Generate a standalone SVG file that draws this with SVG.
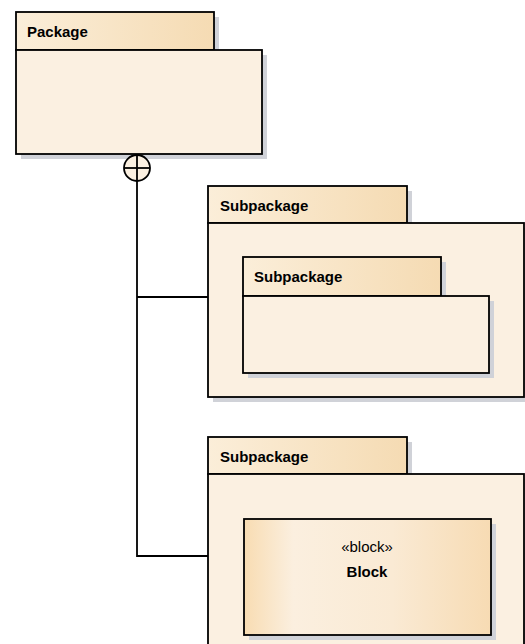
<svg xmlns="http://www.w3.org/2000/svg" width="525" height="644" viewBox="0 0 525 644">
<defs>
<linearGradient id="tabG" x1="0" y1="0" x2="1" y2="0">
<stop offset="0" stop-color="#fbeed9"/>
<stop offset="1" stop-color="#f5dbb3"/>
</linearGradient>
<linearGradient id="blockG" x1="0" y1="0" x2="1" y2="0">
<stop offset="0" stop-color="#f8dcb2"/>
<stop offset="0.2" stop-color="#fbefdf"/>
<stop offset="0.6" stop-color="#faead4"/>
<stop offset="1" stop-color="#f7dbb3"/>
</linearGradient>
<style>
.sh{fill:#d0d2d8;stroke:none}
.tab{fill:url(#tabG);stroke:#000;stroke-width:1.8}
.body{fill:#fbf0e1;stroke:#000;stroke-width:1.8}
.blk{fill:url(#blockG);stroke:#000;stroke-width:1.8}
.lbl{font-family:"Liberation Sans",Arial,sans-serif;font-size:15px;font-weight:bold;fill:#000}
.st{font-family:"Liberation Sans",Arial,sans-serif;font-size:15px;fill:#000}
.con{fill:none;stroke:#000;stroke-width:1.8}
</style>
</defs>
<g id="package">
<rect class="sh" x="21" y="17" width="198" height="38"/>
<rect class="sh" x="21" y="55" width="246" height="104"/>
<rect class="tab" x="16" y="12" width="198" height="38"/>
<rect class="body" x="16" y="50" width="246" height="104"/>
<text class="lbl" x="27" y="37">Package</text>
</g>
<g id="subpackage1">
<rect class="sh" x="213" y="191" width="199" height="37"/>
<rect class="sh" x="213" y="228" width="316" height="174"/>
<rect class="tab" x="208" y="186" width="199" height="37"/>
<rect class="body" x="208" y="223" width="316" height="174"/>
<text class="lbl" x="220" y="211">Subpackage</text>
</g>
<g id="subpackage1-inner">
<rect class="sh" x="248" y="262" width="198" height="39"/>
<rect class="sh" x="248" y="301" width="246" height="77"/>
<rect class="tab" x="243" y="257" width="198" height="39"/>
<rect class="body" x="243" y="296" width="246" height="77"/>
<text class="lbl" x="254" y="282">Subpackage</text>
</g>
<g id="subpackage2">
<rect class="sh" x="213" y="442" width="199" height="37"/>
<rect class="sh" x="213" y="479" width="316" height="180"/>
<rect class="tab" x="208" y="437" width="199" height="37"/>
<rect class="body" x="208" y="474" width="316" height="180"/>
<text class="lbl" x="220" y="462">Subpackage</text>
</g>
<g id="block">
<rect class="sh" x="249" y="524" width="247" height="116"/>
<rect class="blk" x="244" y="519" width="247" height="116"/>
<text class="st" x="367" y="552" text-anchor="middle">«block»</text>
<text class="lbl" x="367" y="577" text-anchor="middle">Block</text>
</g>
<g id="connectors">
<circle cx="137" cy="168" r="13" fill="#fbf0e1" stroke="#000" stroke-width="1.8"/>
<line class="con" x1="124" y1="168" x2="150" y2="168"/>
<path class="con" d="M137 155 V556 H208 M137 297 H208"/>
</g>
</svg>
